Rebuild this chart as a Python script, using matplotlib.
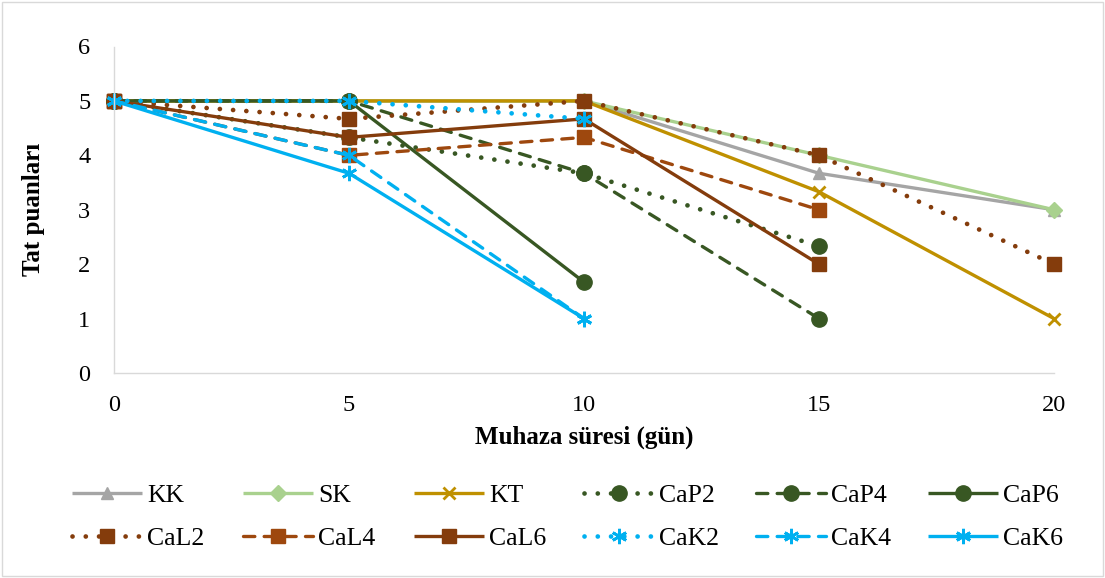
import matplotlib
matplotlib.use("Agg")
import matplotlib.pyplot as plt
from matplotlib.patches import Rectangle

plt.rcParams['font.family'] = ['Liberation Serif', 'DejaVu Serif']

days = [0, 5, 10, 15, 20]

KK   = [5, 5, 5, 3.67, 3]
SK   = [5, 5, 5, 4, 3]
KT   = [5, 5, 5, 3.33, 1]
CaP2 = [5, 4.33, 3.67, 2.33]
CaP4 = [5, 5, 3.67, 1]
CaP6 = [5, 5, 1.67]
CaL2 = [5, 4.67, 5, 4, 2]
CaL4 = [5, 4, 4.33, 3]
CaL6 = [5, 4.33, 4.67, 2]
CaK2 = [5, 5, 4.67]
CaK4 = [5, 4, 1]
CaK6 = [5, 3.67, 1]

GRAY = '#A5A5A5'
LGREEN = '#A9D18E'
GOLD = '#BF9000'
DGREEN = '#385723'
BROWN = '#843C0C'
BROWN2 = '#9E480E'
CYAN = '#00B0F0'

LW = 2.4
DOT_LW = 3.4
DOT = (0, (0.01, 2.8))
DASH = (0, (3.4, 2.8))
AST = (6, 2, 0)

series = [
    ('KK', KK, GRAY, '-', '^', 9),
    ('SK', SK, LGREEN, '-', 'D', 8),
    ('KT', KT, GOLD, '-', 'x', 9),
    ('CaP2', CaP2, DGREEN, DOT, 'o', 11),
    ('CaP4', CaP4, DGREEN, DASH, 'o', 11),
    ('CaP6', CaP6, DGREEN, '-', 'o', 11),
    ('CaL2', CaL2, BROWN, DOT, 's', 10),
    ('CaL4', CaL4, BROWN2, DASH, 's', 10),
    ('CaL6', CaL6, BROWN, '-', 's', 10),
    ('CaK2', CaK2, CYAN, DOT, AST, 11),
    ('CaK4', CaK4, CYAN, DASH, AST, 11),
    ('CaK6', CaK6, CYAN, '-', AST, 11),
]

fig = plt.figure(figsize=(11.05, 5.78), dpi=100)
ax = fig.add_axes([114/1105, 1-373/578, (1054-114)/1105, (373-46.5)/578])

handles = {}
for name, vals, col, ls, mk, ms in series:
    x = days[:len(vals)]
    mew = 2 if mk in ('x', AST) else 1
    lw = DOT_LW if ls == DOT else LW
    ln, = ax.plot(x, vals, color=col, linestyle=ls, linewidth=lw,
                  marker=mk, markersize=ms, markeredgewidth=mew,
                  markerfacecolor=col, markeredgecolor=col,
                  dash_capstyle='round', solid_capstyle='butt', label=name,
                  clip_on=False)
    handles[name] = ln

ax.set_xlim(0, 20)
ax.set_ylim(0, 6)
ax.set_xticks(days)
ax.set_yticks(range(0, 7))
ax.tick_params(axis='both', length=0, labelsize=17.5, colors='black')
ax.tick_params(axis='x', pad=16)
ax.tick_params(axis='y', pad=17)
for s in ['top', 'right']:
    ax.spines[s].set_visible(False)
for s in ['left', 'bottom']:
    ax.spines[s].set_color('#D9D9D9')
    ax.spines[s].set_linewidth(1)

ax.set_xlabel('Muhaza süresi (gün)', fontsize=18, fontweight='bold', labelpad=7)
ax.set_ylabel('Tat puanları', fontsize=18, fontweight='bold', labelpad=24)

cols = [('KK', 'CaL2'), ('SK', 'CaL4'), ('KT', 'CaL6'),
        ('CaP2', 'CaK2'), ('CaP4', 'CaK4'), ('CaP6', 'CaK6')]
col_x = [72, 243, 414, 584, 756, 928]
fs = 18.5
hl_px = 70
for cx, names in zip(col_x, cols):
    fig.legend([handles[n] for n in names], list(names), loc='center left',
               bbox_to_anchor=(cx/1105, 1-517/578), frameon=False, fontsize=fs,
               handlelength=hl_px/(fs*100/72), handletextpad=0.2,
               labelspacing=0.78, borderpad=0, borderaxespad=0)

fig.patches.append(Rectangle((0.002, 0.003), 0.996, 0.994, transform=fig.transFigure,
                             fill=False, edgecolor='#D9D9D9', linewidth=1))

fig.savefig('out.png', dpi=100)
